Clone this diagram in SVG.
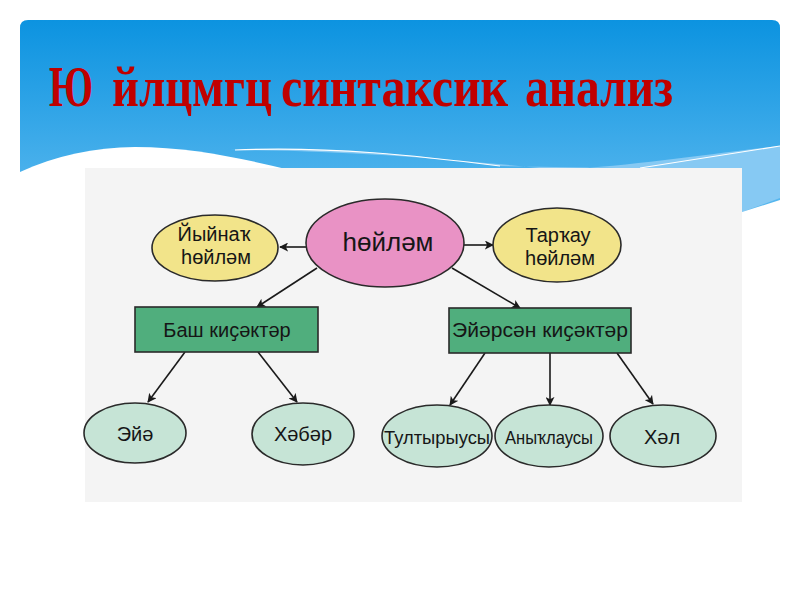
<svg xmlns="http://www.w3.org/2000/svg" width="800" height="600" viewBox="0 0 800 600">
  <defs>
    <linearGradient id="sky" x1="0" y1="0" x2="0" y2="1">
      <stop offset="0" stop-color="#0c93e0"/>
      <stop offset="1" stop-color="#5bb9ef"/>
    </linearGradient>
    <marker id="arr" viewBox="0 0 10 10" refX="9" refY="5" markerWidth="9" markerHeight="9" markerUnits="userSpaceOnUse" orient="auto">
      <path d="M0,0 L10,5 L0,10 L2.5,5 Z" fill="#1a1a1a"/>
    </marker>
    <style>
      .edge { stroke: #1a1a1a; stroke-width: 1.6; fill: none; marker-end: url(#arr); }
      .nd { stroke: #2a2a2a; stroke-width: 1.6; }
      .yel { fill: #f2e48a; }
      .pink { fill: #e992c5; }
      .grn { fill: #50ae7d; }
      .pale { fill: #c6e4d6; }
      .t { font-family: "Liberation Sans", Arial, sans-serif; fill: #161616; text-anchor: middle; }
      .title { font-family: "Liberation Serif", "Times New Roman", serif; font-weight: bold; fill: #c00000; font-size: 48px; }
    </style>
  </defs>

  <rect width="800" height="600" fill="#ffffff"/>

  <!-- header -->
  <path d="M20,28 Q20,20 28,20 L772,20 Q780,20 780,28 L780,215 L20,215 Z" fill="url(#sky)"/>
  <path d="M230,150 C330,146 420,156 500,166 L742,170 L742,212 L780,198 L780,146 C700,155 640,165 560,170 C460,160 350,150 230,150 Z" fill="#86c9f3"/>
  <path d="M235,150 C330,146 420,156 500,166" stroke="#ffffff" stroke-width="1.2" fill="none"/>
  <path d="M640,168 C690,160 740,152 780,146" stroke="#ffffff" stroke-width="1.2" fill="none"/>
  <path d="M20,172 C55,156 95,147 135,147 C190,147 240,158 290,170 L290,600 L20,600 Z" fill="#ffffff"/>
  <path d="M742,600 L742,212 L780,200 L780,600 Z" fill="#ffffff"/>

  <!-- title -->
  <g transform="translate(0,106) scale(1,1.17)">
    <text class="title" x="49" y="0" textLength="44" lengthAdjust="spacingAndGlyphs">Ю</text>
    <text class="title" x="112" y="0" textLength="160" lengthAdjust="spacingAndGlyphs">йлцмгц</text>
    <text class="title" x="281" y="0" textLength="227" lengthAdjust="spacingAndGlyphs">синтаксик</text>
    <text class="title" x="525" y="0" textLength="148" lengthAdjust="spacingAndGlyphs">анализ</text>
  </g>

  <!-- picture background -->
  <rect x="85" y="168" width="657" height="334" fill="#f4f4f4"/>

  <!-- connectors -->
  <g id="connectors">
    <line class="edge" x1="306" y1="247" x2="280" y2="247"/>
    <line class="edge" x1="464" y1="245" x2="493" y2="245"/>
    <line class="edge" x1="317" y1="268" x2="257" y2="307"/>
    <line class="edge" x1="452" y1="268" x2="520" y2="308"/>
    <line class="edge" x1="185" y1="352" x2="148" y2="402"/>
    <line class="edge" x1="258" y1="352" x2="297" y2="402"/>
    <line class="edge" x1="485" y1="353" x2="450" y2="405"/>
    <line class="edge" x1="550" y1="353" x2="550" y2="405"/>
    <line class="edge" x1="617" y1="353" x2="653" y2="404"/>
  </g>

  <!-- nodes -->
  <g id="n-soylem">
    <ellipse class="nd pink" cx="385" cy="243" rx="79" ry="44"/>
    <text class="t" x="388" y="251" font-size="26">һөйләм</text>
  </g>
  <g id="n-yiynak">
    <ellipse class="nd yel" cx="215" cy="248" rx="63" ry="33"/>
    <text class="t" x="214" y="241" font-size="20">Йыйнаҡ</text>
    <text class="t" x="216" y="264" font-size="20">һөйләм</text>
  </g>
  <g id="n-tarkau">
    <ellipse class="nd yel" cx="557" cy="245" rx="64" ry="37"/>
    <text class="t" x="558" y="242" font-size="20">Тарҡау</text>
    <text class="t" x="560" y="265" font-size="20">һөйләм</text>
  </g>
  <g id="n-bash">
    <rect class="nd grn" x="135" y="307" width="183" height="45"/>
    <text class="t" x="227" y="337" font-size="20">Баш киҫәктәр</text>
  </g>
  <g id="n-eyarsan">
    <rect class="nd grn" x="449" y="308" width="182" height="45"/>
    <text class="t" x="540" y="337" font-size="20" textLength="176" lengthAdjust="spacingAndGlyphs">Эйәрсән киҫәктәр</text>
  </g>
  <g id="n-eya">
    <ellipse class="nd pale" cx="135" cy="433" rx="51" ry="30"/>
    <text class="t" x="135" y="441" font-size="20">Эйә</text>
  </g>
  <g id="n-khabar">
    <ellipse class="nd pale" cx="303" cy="434" rx="51" ry="31"/>
    <text class="t" x="303" y="441" font-size="20">Хәбәр</text>
  </g>
  <g id="n-tultyryusy">
    <ellipse class="nd pale" cx="437" cy="436" rx="55" ry="31"/>
    <text class="t" x="437" y="444" font-size="19" textLength="106" lengthAdjust="spacingAndGlyphs">Тултырыусы</text>
  </g>
  <g id="n-anyklausy">
    <ellipse class="nd pale" cx="549" cy="436" rx="54" ry="31"/>
    <text class="t" x="549" y="444" font-size="19" textLength="88" lengthAdjust="spacingAndGlyphs">Аныҡлаусы</text>
  </g>
  <g id="n-khal">
    <ellipse class="nd pale" cx="663" cy="436" rx="53" ry="31"/>
    <text class="t" x="662" y="444" font-size="20">Хәл</text>
  </g>
</svg>
